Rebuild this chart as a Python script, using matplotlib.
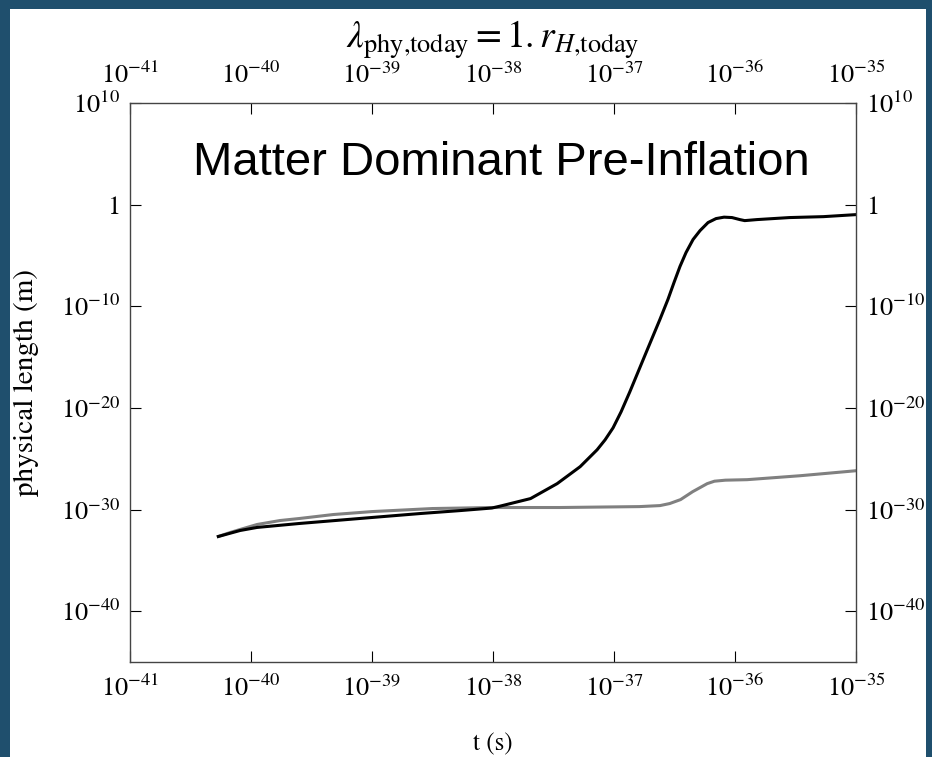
import numpy as np
import matplotlib.pyplot as plt
from matplotlib.patches import Rectangle

plt.rcParams['font.family'] = 'STIXGeneral'
plt.rcParams['mathtext.fontset'] = 'stix'

# black curve: log10 t, log10 length
log_t_black = [-40.27, -40.09, -39.95, -39.60, -39.0, -38.60, -38.27, -38.01, -37.94,
               -37.69, -37.47, -37.28, -37.14, -37.074, -37.008, -36.942, -36.87, -36.73,
               -36.62, -36.554, -36.504, -36.455, -36.405, -36.347, -36.289, -36.223,
               -36.157, -36.091, -36.025, -35.96, -35.92, -35.82, -35.55, -35.27, -35.0]
log_L_black = [-32.65, -32.06, -31.76, -31.37, -30.78, -30.39, -30.10, -29.85, -29.66,
               -28.92, -27.45, -25.78, -24.12, -23.14, -21.96, -20.39, -18.43, -14.41,
               -11.27, -9.31, -7.65, -6.08, -4.71, -3.43, -2.55, -1.76,
               -1.37, -1.23, -1.27, -1.47, -1.57, -1.47, -1.27, -1.18, -0.98]

# gray curve
log_t_gray = [-40.27, -40.17, -40.09, -39.95, -39.76, -39.60, -39.32, -39.0, -38.50,
              -38.01, -37.45, -36.79, -36.62, -36.54, -36.45, -36.35, -36.23, -36.17,
              -36.08, -35.90, -35.46, -35.0]
log_L_gray = [-32.65, -32.25, -31.96, -31.47, -31.08, -30.88, -30.49, -30.20, -29.90,
              -29.80, -29.80, -29.71, -29.61, -29.41, -29.02, -28.24, -27.45, -27.21,
              -27.11, -27.06, -26.67, -26.18]

xticks = [1e-41, 1e-40, 1e-39, 1e-38, 1e-37, 1e-36, 1e-35]
xtick_labels = [r'$10^{-41}$', r'$10^{-40}$', r'$10^{-39}$', r'$10^{-38}$',
                r'$10^{-37}$', r'$10^{-36}$', r'$10^{-35}$']
yticks = [1e10, 1, 1e-10, 1e-20, 1e-30, 1e-40]
ytick_labels = [r'$10^{10}$', '1', r'$10^{-10}$', r'$10^{-20}$', r'$10^{-30}$', r'$10^{-40}$']

fig = plt.figure(figsize=(9.32, 7.57), dpi=100)
fig.patch.set_facecolor('#1f4f6d')
fig.patches.append(Rectangle((10/932, 0), 916/932, 748/757, transform=fig.transFigure,
                             facecolor='white', edgecolor='none', zorder=-5))

ax = fig.add_axes([0.1395, 0.1255, 0.779, 0.7384])
ax.set_zorder(2)
ax.plot(10**np.array(log_t_gray), 10**np.array(log_L_gray), color='#808080', lw=2.2,
        solid_joinstyle='round')
ax.plot(10**np.array(log_t_black), 10**np.array(log_L_black), color='black', lw=2.2,
        solid_joinstyle='round')

ax.set_xscale('log')
ax.set_yscale('log')
ax.set_xlim(1e-41, 1e-35)
ax.set_ylim(1e-45, 1e10)
ax.set_xticks(xticks)
ax.set_xticklabels(xtick_labels)
ax.set_yticks(yticks)
ax.set_yticklabels(ytick_labels)
ax.minorticks_off()
ax.tick_params(direction='in', length=8, width=0.8, top=True, right=True,
               labeltop=True, labelright=True, labelsize=19, colors='black')
ax.tick_params(axis='x', pad=10)
ax.tick_params(axis='y', pad=7)
for s in ax.spines.values():
    s.set_color('#444444')
    s.set_linewidth(1.0)

ax.set_xlabel('t (s)', fontsize=18, labelpad=22)
ax.set_ylabel('physical length (m)', fontsize=21, labelpad=16)

fig.text(0.529, 0.947, r'$\lambda_{\rm phy{,}today} = 1{.}r_{H{,}\rm today}$',
         ha='center', va='center', fontsize=27)
ax.text(0.511, 0.893, 'Matter Dominant Pre-Inflation', transform=ax.transAxes,
        ha='center', va='center', fontsize=34, family='Liberation Sans')

fig.savefig('out.png', dpi=100, facecolor=fig.get_facecolor())
